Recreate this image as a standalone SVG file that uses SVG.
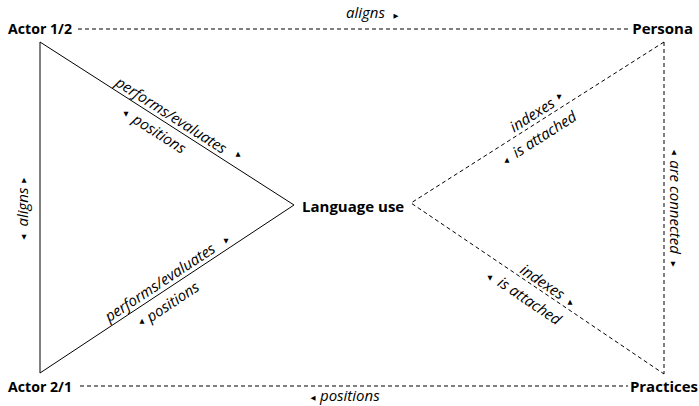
<svg xmlns="http://www.w3.org/2000/svg" width="699" height="406" viewBox="0 0 699 406">
<style>
.node{font-family:"Open Sans","Noto Sans",sans-serif;font-weight:bold;font-size:15px;fill:#000}
.lbl{font-family:"Open Sans","Noto Sans",sans-serif;font-style:italic;font-size:15px;fill:#000}
.ar{font-family:"DejaVu Sans",sans-serif;font-size:6.5px;fill:#000;text-anchor:middle}
.solid{stroke:#000;stroke-width:1;fill:none}
.dash{stroke:#000;stroke-width:1;fill:none;stroke-dasharray:4 3}
</style>
<rect width="699" height="406" fill="#fff"/>
<g id="connectors">
  <polyline class="solid" points="40,42 294,205 40,373 40,42"/>
  <polyline class="dash" points="664,42 411,203 664,374"/>
  <line class="dash" x1="664" y1="42" x2="664" y2="374"/>
  <line class="dash" x1="78" y1="29" x2="628" y2="29"/>
  <line class="dash" x1="80" y1="386" x2="628" y2="386"/>
</g>
<g id="edge-labels">
  <text class="lbl" x="346" y="18">aligns</text>
  <text class="ar" x="396" y="17.5">▶</text>
  <text class="lbl" x="320" y="401">positions</text>
  <text class="ar" x="313" y="399.5">◀</text>
  <text class="lbl" text-anchor="middle" transform="translate(28,207) rotate(-90)">aligns</text>
  <text class="ar" x="24" y="181.5">▲</text>
  <text class="ar" x="24" y="238.5">▼</text>
  <text class="lbl" text-anchor="middle" transform="translate(670,207) rotate(90)">are connected</text>
  <text class="ar" x="674" y="153.5">▲</text>
  <text class="ar" x="673" y="265.5">▼</text>
  <g transform="translate(166.2,123) rotate(32.68)">
    <text class="lbl" text-anchor="middle" y="-4">performs/evaluates</text>
    <text class="lbl" text-anchor="middle" y="18">positions</text>
  </g>
  <text class="ar" x="238" y="155.5">▲</text>
  <text class="ar" x="126" y="115.5">▼</text>
  <g transform="translate(165.1,290.2) rotate(-33.48)">
    <text class="lbl" text-anchor="middle" y="-4">performs/evaluates</text>
    <text class="lbl" text-anchor="middle" y="19">positions</text>
  </g>
  <text class="ar" x="226" y="242.5">▼</text>
  <text class="ar" x="142" y="322.5">▲</text>
  <g transform="translate(537.1,122.7) rotate(-32.47)">
    <text class="lbl" text-anchor="middle" y="-4">indexes</text>
    <text class="lbl" text-anchor="middle" y="19">is attached</text>
  </g>
  <text class="ar" x="559" y="98.5">▼</text>
  <text class="ar" x="507" y="161.5">▲</text>
  <g transform="translate(537.8,288.7) rotate(34.06)">
    <text class="lbl" text-anchor="middle" y="-3">indexes</text>
    <text class="lbl" text-anchor="middle" y="20">is attached</text>
  </g>
  <text class="ar" x="570" y="303.5">▲</text>
  <text class="ar" x="490" y="279.5">▼</text>
</g>
<g id="actor12"><text class="node" x="8" y="34" textLength="64" lengthAdjust="spacingAndGlyphs">Actor 1/2</text></g>
<g id="persona"><text class="node" x="693" y="34" text-anchor="end">Persona</text></g>
<g id="actor21"><text class="node" x="8" y="392" textLength="64" lengthAdjust="spacingAndGlyphs">Actor 2/1</text></g>
<g id="practices"><text class="node" x="698" y="392" text-anchor="end">Practices</text></g>
<g id="language-use"><text class="node" x="302" y="212">Language use</text></g>
</svg>
